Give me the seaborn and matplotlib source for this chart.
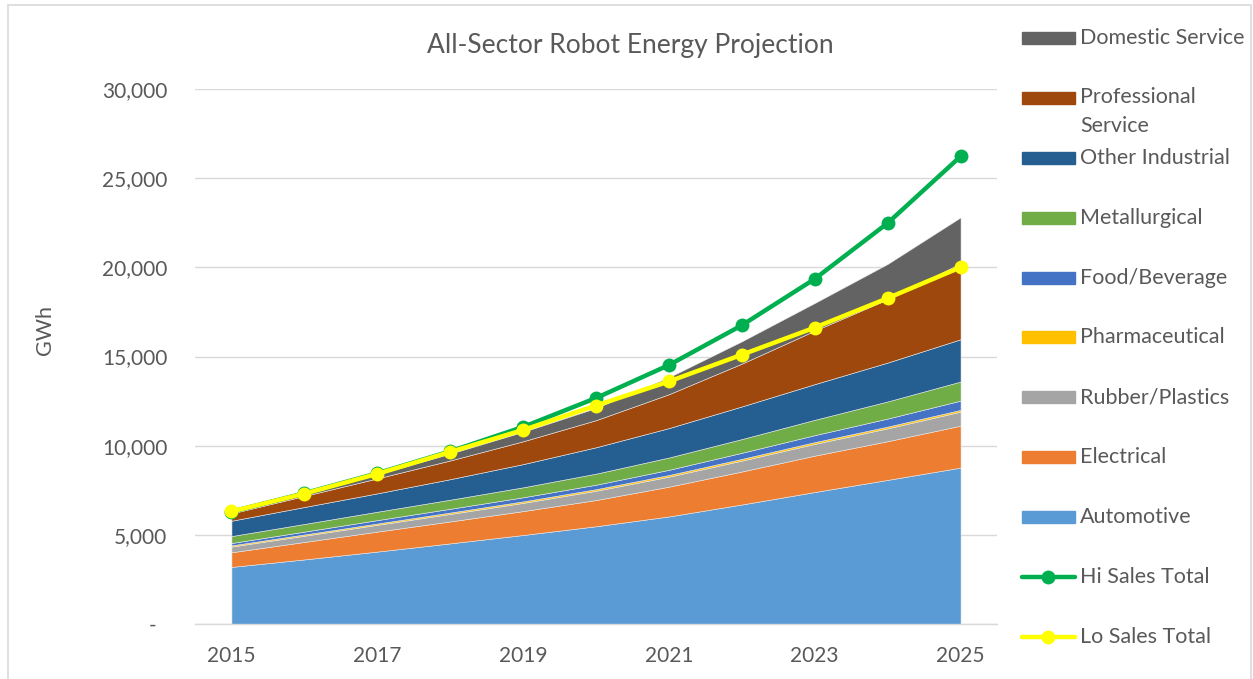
import numpy as np
import pandas as pd
import matplotlib
matplotlib.use("Agg")
import matplotlib.pyplot as plt
import seaborn as sns
from matplotlib.patches import Rectangle
from matplotlib.lines import Line2D

years = [2015, 2016, 2017, 2018, 2019, 2020, 2021, 2022, 2023, 2024, 2025]

# GWh per sector, bottom to top of the stack
automotive = [3200, 3620, 4060, 4520, 4990, 5480, 6030, 6700, 7400, 8080, 8770]
electrical = [820, 980, 1120, 1230, 1340, 1470, 1670, 1850, 2040, 2170, 2350]
rubber = [320, 350, 380, 420, 460, 520, 560, 610, 660, 720, 785]
pharma = [70, 70, 75, 80, 85, 90, 95, 100, 100, 100, 100]
food = [130, 160, 190, 210, 230, 250, 290, 340, 390, 450, 520]
metallurgical = [390, 430, 470, 510, 560, 620, 690, 770, 860, 960, 1070]
other_industrial = [860, 950, 1030, 1150, 1300, 1480, 1650, 1830, 2000, 2180, 2370]
professional = [410, 620, 840, 1050, 1280, 1520, 1900, 2400, 3000, 3550, 4260]
domestic = [100, 130, 220, 380, 530, 680, 950, 1250, 1550, 1980, 2575]

hi_total = [6300, 7330, 8450, 9680, 11050, 12670, 14520, 16750, 19350, 22480, 26220]
lo_total = [6310, 7310, 8420, 9650, 10880, 12250, 13600, 15100, 16620, 18270, 20000]

sectors = ["Automotive", "Electrical", "Rubber/Plastics", "Pharmaceutical",
           "Food/Beverage", "Metallurgical", "Other Industrial",
           "Professional Service", "Domestic Service"]
sector_colors = ["#5B9BD5", "#ED7D31", "#A5A5A5", "#FFC000", "#4472C4",
                 "#70AD47", "#255E91", "#9E480E", "#636363"]
hi_color = "#00B050"
lo_color = "#FFFF00"
text_color = "#595959"
grid_color = "#D9D9D9"

sns.set_theme(style="white")
plt.rcParams["font.family"] = ["Lato", "DejaVu Sans"]

W, H = 1253, 679
fig = plt.figure(figsize=(W / 100, H / 100), dpi=100)
ax = fig.add_axes([195 / W, 1 - 624 / H, (997 - 195) / W, (624 - 89) / H])

idx = np.arange(len(years))
ax.stackplot(idx, automotive, electrical, rubber, pharma, food, metallurgical,
             other_industrial, professional, domestic,
             colors=sector_colors, edgecolor="#E8E8E8", linewidth=0.4, zorder=2)

df = pd.DataFrame({"x": idx, "hi": hi_total, "lo": lo_total})
sns.lineplot(data=df, x="x", y="hi", color=hi_color, linewidth=3.2, marker="o",
             markersize=10, markeredgewidth=0, ax=ax, zorder=4)
sns.lineplot(data=df, x="x", y="lo", color=lo_color, linewidth=3.2, marker="o",
             markersize=10, markeredgewidth=0, ax=ax, zorder=5)

ax.set_xlim(-0.5, len(years) - 0.5)
ax.set_ylim(0, 30000)
ax.set_yticks(np.arange(0, 30001, 5000))
ax.set_yticklabels(["-  "] + [f"{v:,}" for v in range(5000, 30001, 5000)])
ax.set_xticks(idx[::2])
ax.set_xticklabels([str(y) for y in years[::2]])
ax.set_xticks(np.arange(-0.5, len(years), 1), minor=True)
ax.tick_params(axis="x", which="major", length=0, pad=16, labelsize=15, labelcolor=text_color)
ax.tick_params(axis="x", which="minor", length=6, width=1, color=grid_color, direction="out")
ax.tick_params(axis="y", length=0, pad=20, labelsize=15, labelcolor=text_color)
ax.set_xlabel("")
ax.set_ylabel("")
ax.grid(axis="y", color=grid_color, linewidth=1)
ax.grid(axis="x", visible=False)
ax.set_axisbelow(True)
for s in ["left", "right", "top"]:
    ax.spines[s].set_visible(False)
ax.spines["bottom"].set_color(grid_color)
ax.spines["bottom"].set_linewidth(1)

def fx(x):
    return x / W

def fy(y):
    return 1 - y / H

fig.text(fx(630), fy(45), "All-Sector Robot Energy Projection", ha="center", va="center",
         fontsize=19, color=text_color)
fig.text(fx(45), fy(330), "GWh", ha="center", va="center", rotation=90,
         fontsize=15.5, color=text_color)

# legend drawn by hand so the wrapped label keeps the even spacing of the original
lfs = 15.5
legend_rows = [38, 98, 158, 218, 278, 337, 397, 457, 517]
for row, name, col in zip(legend_rows, sectors[::-1], sector_colors[::-1]):
    fig.add_artist(Rectangle((fx(1022), fy(row + 6)), (1075 - 1022) / W, 12 / H,
                             transform=fig.transFigure, color=col))
    if name == "Professional Service":
        fig.text(fx(1080), fy(row - 11), "Professional\nService", ha="left", va="top",
                 fontsize=lfs, color=text_color, linespacing=1.55)
    else:
        fig.text(fx(1080), fy(row), name, ha="left", va="center",
                 fontsize=lfs, color=text_color)

for row, name, col in [(577, "Hi Sales Total", hi_color), (637, "Lo Sales Total", lo_color)]:
    fig.add_artist(Line2D([fx(1022), fx(1075)], [fy(row), fy(row)], transform=fig.transFigure,
                          color=col, linewidth=3.2))
    fig.add_artist(Line2D([fx(1048)], [fy(row)], transform=fig.transFigure, color=col,
                          marker="o", markersize=10, markeredgewidth=0))
    fig.text(fx(1080), fy(row), name, ha="left", va="center", fontsize=lfs, color=text_color)

fig.add_artist(Rectangle((fx(8), -0.01), (1251 - 8) / W, fy(5) + 0.01,
                         transform=fig.transFigure, fill=False, edgecolor=grid_color, linewidth=1.2))

fig.savefig("out.png", dpi=100)
